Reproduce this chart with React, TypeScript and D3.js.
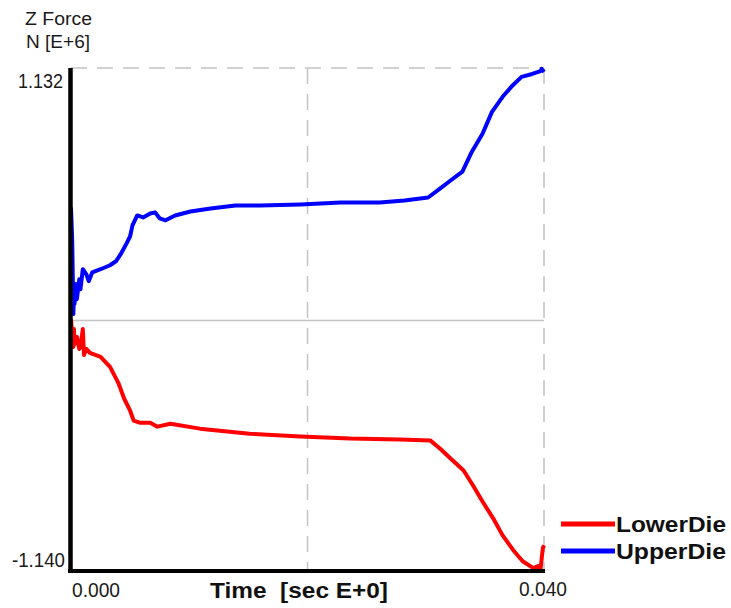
import React from "react";
import * as d3 from "d3";

const upperTime = [0.0, 0.0001, 0.0002, 0.00025, 0.0003, 0.0004, 0.0005, 0.0007, 0.0008, 0.001, 0.0013, 0.0015, 0.0018, 0.0025, 0.0033, 0.0038, 0.0042, 0.0047, 0.005, 0.0052, 0.0056, 0.0061, 0.0067, 0.0071, 0.0075, 0.008, 0.0088, 0.0101, 0.0118, 0.0139, 0.016, 0.0194, 0.0228, 0.0261, 0.0282, 0.0302, 0.0312, 0.0321, 0.0331, 0.0339, 0.0348, 0.0356, 0.0365, 0.0373, 0.0381, 0.039, 0.0397, 0.0398, 0.04];
const upperForce = [0.502, 0.358, 0.021, 0.133, 0.066, 0.156, 0.088, 0.178, 0.133, 0.223, 0.2, 0.169, 0.209, 0.223, 0.241, 0.259, 0.291, 0.34, 0.372, 0.421, 0.466, 0.457, 0.475, 0.48, 0.453, 0.444, 0.466, 0.484, 0.497, 0.511, 0.511, 0.516, 0.525, 0.525, 0.534, 0.547, 0.587, 0.624, 0.664, 0.754, 0.835, 0.934, 1.002, 1.051, 1.092, 1.105, 1.118, 1.128, 1.114];

const lowerTime = [0.0, 0.0001, 0.0002, 0.00025, 0.0003, 0.0005, 0.0007, 0.0008, 0.001, 0.0011, 0.0013, 0.0016, 0.0025, 0.0033, 0.004, 0.0045, 0.005, 0.0053, 0.0058, 0.0067, 0.0073, 0.0084, 0.0109, 0.0151, 0.0194, 0.0236, 0.0278, 0.0304, 0.0312, 0.0321, 0.0332, 0.034, 0.0348, 0.0357, 0.0365, 0.0374, 0.0382, 0.0391, 0.0395, 0.0397, 0.0399, 0.04];
const lowerForce = [-0.003, -0.07, -0.128, -0.047, -0.115, -0.083, -0.137, -0.128, -0.047, -0.164, -0.137, -0.155, -0.173, -0.218, -0.29, -0.362, -0.416, -0.461, -0.47, -0.47, -0.488, -0.475, -0.497, -0.52, -0.533, -0.542, -0.546, -0.551, -0.587, -0.632, -0.686, -0.754, -0.826, -0.902, -0.979, -1.046, -1.096, -1.127, -1.118, -1.136, -1.037, -1.024];

const yMax = 1.132;
const yMin = -1.14;
const xTicks = ["0.000", "0.040"];
const yTicks = ["1.132", "-1.140"];
const seriesNames = ["LowerDie", "UpperDie"];
const seriesColors = ["#ff0000", "#0000ff"];

export default function App() {
  const W = 731, H = 608;
  const L = 71, R = 544, T = 68, B = 571;
  const x = d3.scaleLinear().domain([0, 0.04]).range([L, R]);
  const y = d3.scaleLinear().domain([yMin, yMax]).range([B, T]);
  const line = d3.line<[number, number]>().x(d => x(d[0])).y(d => y(d[1]));
  const upper = upperTime.map((t, i) => [t, upperForce[i]] as [number, number]);
  const lower = lowerTime.map((t, i) => [t, lowerForce[i]] as [number, number]);
  const font = "'Liberation Sans', Arial, sans-serif";
  const grid = "#c4c4c4";
  const txt = "#1a1a1a";
  return (
    <svg width={W} height={H} style={{ position: "absolute", left: 0, top: 0, background: "#fff" }} fontFamily={font}>
      <rect width={W} height={H} fill="#fff" />
      <text x={25} y={25} fontSize={18} fill={txt} textLength={67} lengthAdjust="spacingAndGlyphs">Z Force</text>
      <text x={26} y={48} fontSize={18} fill={txt} textLength={64} lengthAdjust="spacingAndGlyphs">N [E+6]</text>
      {/* grid */}
      <line x1={L} x2={R} y1={T} y2={T} stroke={grid} strokeWidth={1.5} strokeDasharray="16 10" />
      <line x1={R} x2={R} y1={T} y2={B} stroke={grid} strokeWidth={1.5} strokeDasharray="16 10" />
      <line x1={x(0.02)} x2={x(0.02)} y1={T} y2={B} stroke={grid} strokeWidth={1.5} strokeDasharray="16 10" />
      <line x1={L} x2={R} y1={y(0) + 2} y2={y(0) + 2} stroke={grid} strokeWidth={1.5} />
      {/* series */}
      <path d={line(lower) || ""} fill="none" stroke={seriesColors[0]} strokeWidth={4} strokeLinejoin="round" />
      <path d={line(upper) || ""} fill="none" stroke={seriesColors[1]} strokeWidth={4} strokeLinejoin="round" />
      {/* axes */}
      <line x1={L - 0.5} x2={L - 0.5} y1={T} y2={B + 2} stroke="#000" strokeWidth={4.5} />
      <line x1={L - 3} x2={R + 1} y1={B} y2={B} stroke="#000" strokeWidth={4} />
      {/* tick labels */}
      <text x={18} y={88} fontSize={21} fill={txt} textLength={45} lengthAdjust="spacingAndGlyphs">{yTicks[0]}</text>
      <text x={12} y={567} fontSize={21} fill={txt} textLength={53} lengthAdjust="spacingAndGlyphs">{yTicks[1]}</text>
      <text x={72} y={597} fontSize={21} fill={txt} textLength={48} lengthAdjust="spacingAndGlyphs">{xTicks[0]}</text>
      <text x={519} y={596} fontSize={21} fill={txt} textLength={48} lengthAdjust="spacingAndGlyphs">{xTicks[1]}</text>
      <text x={210} y={598} fontSize={22} fontWeight="bold" fill="#111" textLength={178} lengthAdjust="spacingAndGlyphs" xmlSpace="preserve">Time  [sec E+0]</text>
      {/* legend */}
      {seriesNames.map((n, i) => (
        <g key={n}>
          <line x1={561} x2={615} y1={524 + i * 27} y2={524 + i * 27} stroke={seriesColors[i]} strokeWidth={5} />
          <text x={616} y={532 + i * 27} fontSize={22} fontWeight="bold" fill="#111" textLength={110} lengthAdjust="spacingAndGlyphs">{n}</text>
        </g>
      ))}
    </svg>
  );
}
